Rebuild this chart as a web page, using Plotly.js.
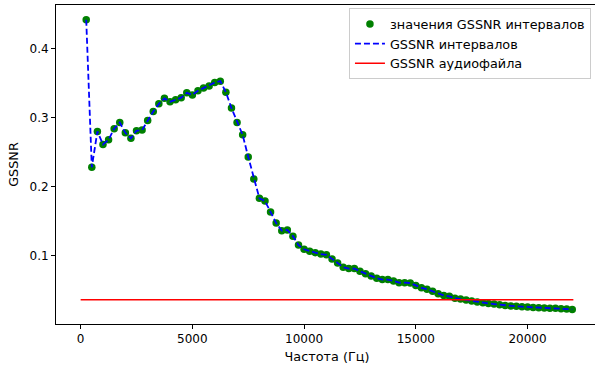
<!DOCTYPE html>
<html>
<head>
<meta charset="utf-8">
<script src="https://cdn.plot.ly/plotly-3.0.1.min.js"></script>
<style>
html, body { margin: 0; padding: 0; overflow: hidden; background: #fff; }
#chart { width: 598px; height: 369px; }
</style>
</head>
<body>
<div id="chart"></div>
<script>
// Frequencies of interval points (Hz)
const freqs = [
  250, 500, 750, 1000, 1250, 1500, 1750, 2000, 2250, 2500,
  2750, 3000, 3250, 3500, 3750, 4000, 4250, 4500, 4750, 5000,
  5250, 5500, 5750, 6000, 6250, 6500, 6750, 7000, 7250, 7500,
  7750, 8000, 8250, 8500, 8750, 9000, 9250, 9500, 9750, 10000,
  10250, 10500, 10750, 11000, 11250, 11500, 11750, 12000, 12250, 12500,
  12750, 13000, 13250, 13500, 13750, 14000, 14250, 14500, 14750, 15000,
  15250, 15500, 15750, 16000, 16250, 16500, 16750, 17000, 17250, 17500,
  17750, 18000, 18250, 18500, 18750, 19000, 19250, 19500, 19750, 20000,
  20250, 20500, 20750, 21000, 21250, 21500, 21750, 22000
];
// GSSNR values of intervals
const gssnrIntervals = [
  0.442, 0.228, 0.280, 0.261, 0.268, 0.284, 0.293, 0.278, 0.270, 0.281,
  0.282, 0.296, 0.309, 0.320, 0.328, 0.323, 0.326, 0.329, 0.336, 0.333,
  0.339, 0.343, 0.346, 0.351, 0.353, 0.337, 0.314, 0.293, 0.275, 0.243,
  0.211, 0.183, 0.179, 0.163, 0.147, 0.136, 0.137, 0.128, 0.115, 0.109,
  0.106, 0.104, 0.102, 0.101, 0.095, 0.089, 0.083, 0.081, 0.081, 0.077,
  0.0735, 0.070, 0.067, 0.065, 0.065, 0.063, 0.0605, 0.0605, 0.060, 0.0565,
  0.053, 0.051, 0.048, 0.0444, 0.042, 0.0406, 0.038, 0.0367, 0.0353, 0.0338,
  0.0324, 0.0314, 0.0304, 0.0295, 0.0285, 0.0275, 0.0266, 0.0261, 0.0256, 0.0251,
  0.0246, 0.0242, 0.0237, 0.0232, 0.0232, 0.0227, 0.0222, 0.0217
];
// GSSNR of the whole audio file
const fileX = [0, 22050];
const fileY = [0.0356, 0.0356];

const xTicks = [0, 5000, 10000, 15000, 20000];
const yTicks = [0.1, 0.2, 0.3, 0.4];

const labels = {
  points: 'значения GSSNR интервалов',
  line: 'GSSNR интервалов',
  file: 'GSSNR аудиофайла',
  xTitle: 'Частота (Гц)',
  yTitle: 'GSSNR'
};

const tickFont = { family: 'DejaVu Sans, sans-serif', size: 12, color: '#000' };
const textFont = { family: 'DejaVu Sans, sans-serif', size: 12.8, color: '#000' };

const traces = [
  {
    x: freqs, y: gssnrIntervals, type: 'scatter', mode: 'markers',
    name: labels.points,
    marker: { color: '#008000', size: 7.5 }
  },
  {
    x: freqs, y: gssnrIntervals, type: 'scatter', mode: 'lines',
    name: labels.line,
    line: { color: '#0000ff', width: 1.8, dash: '6px,3px' }
  },
  {
    x: fileX, y: fileY, type: 'scatter', mode: 'lines',
    name: labels.file,
    line: { color: '#ff0000', width: 1.6 }
  }
];

const layout = {
  width: 598, height: 369,
  margin: { l: 56, r: 0, t: 5, b: 45, pad: 0 },
  paper_bgcolor: '#fff', plot_bgcolor: '#fff',
  font: tickFont,
  showlegend: true,
  legend: {
    x: 0.987, y: 0.99, xanchor: 'right', yanchor: 'top',
    bgcolor: 'rgba(255,255,255,0.8)', bordercolor: '#cccccc', borderwidth: 1,
    font: textFont
  },
  xaxis: {
    range: [-1102.5, 23152.5],
    tickvals: xTicks, tickformat: 'd', tickfont: tickFont,
    showgrid: false, zeroline: false,
    showline: true, linecolor: '#000', linewidth: 1, mirror: true,
    ticks: 'outside', ticklen: 4, tickwidth: 1, tickcolor: '#000',
    title: { text: labels.xTitle, font: textFont, standoff: 6 }
  },
  yaxis: {
    range: [0.0005, 0.4635],
    tickvals: yTicks, tickformat: '.1f', tickfont: tickFont,
    showgrid: false, zeroline: false,
    showline: true, linecolor: '#000', linewidth: 1, mirror: true,
    ticks: 'outside', ticklen: 4, tickwidth: 1, tickcolor: '#000',
    title: { text: labels.yTitle, font: textFont, standoff: 8 }
  }
};

Plotly.newPlot('chart', traces, layout, { staticPlot: true, displayModeBar: false });
</script>
</body>
</html>
